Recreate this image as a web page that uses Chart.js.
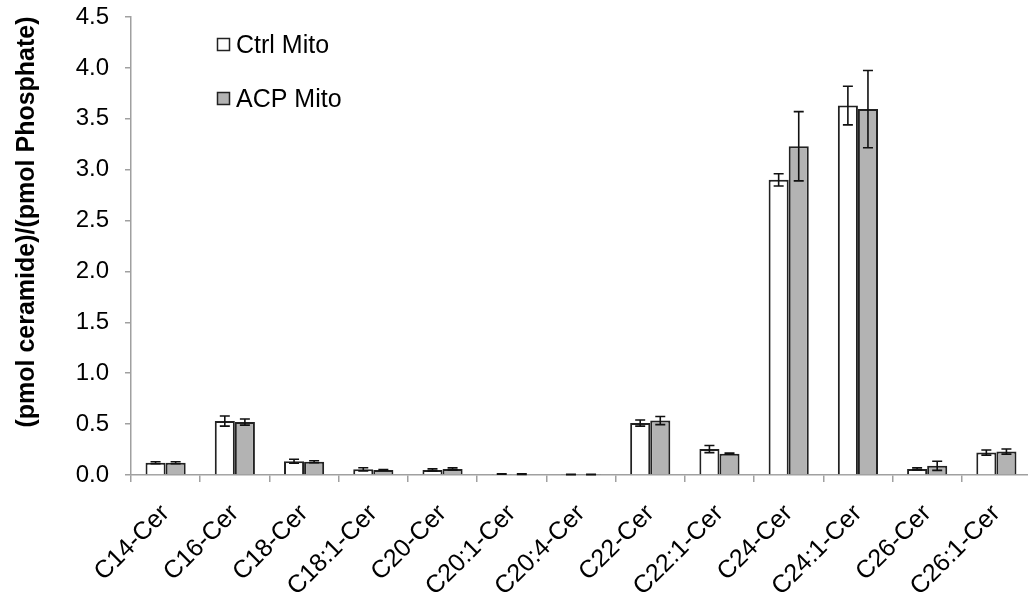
<!DOCTYPE html>
<html><head><meta charset="utf-8">
<script src="https://cdn.jsdelivr.net/npm/chart.js@4/dist/chart.umd.min.js"></script>
<style>html,body{margin:0;padding:0;background:#fff;overflow:hidden;width:1028px;height:595px}</style>
</head><body>
<canvas id="c" width="1040" height="595" style="display:block"></canvas>
<script>
const categories = ["C14-Cer","C16-Cer","C18-Cer","C18:1-Cer","C20-Cer","C20:1-Cer","C20:4-Cer","C22-Cer","C22:1-Cer","C24-Cer","C24:1-Cer","C26-Cer","C26:1-Cer"];
const ctrlMito = [0.12, 0.53, 0.135, 0.056, 0.05, 0.01, 0.005, 0.51, 0.255, 2.90, 3.63, 0.06, 0.22];
const ctrlErr  = [0.01, 0.05, 0.02, 0.015, 0.01, 0.003, 0.002, 0.03, 0.035, 0.06, 0.19, 0.01, 0.025];
const acpMito  = [0.12, 0.52, 0.13, 0.05, 0.06, 0.008, 0.005, 0.535, 0.21, 3.23, 3.595, 0.09, 0.23];
const acpErr   = [0.01, 0.03, 0.01, 0.004, 0.01, 0.003, 0.002, 0.04, 0.005, 0.34, 0.38, 0.045, 0.025];
const seriesLabels = ["Ctrl Mito", "ACP Mito"];
const yTickValues = [0, 0.5, 1.0, 1.5, 2.0, 2.5, 3.0, 3.5, 4.0, 4.5];
const yTitle = "(pmol ceramide)/(pmol Phosphate)";

Chart.defaults.font.family = "'Liberation Sans', Arial, sans-serif";
Chart.defaults.color = "#000";

const errorBars = {
  id: 'errorBars',
  afterDatasetsDraw(chart) {
    const ctx = chart.ctx, y = chart.scales.y;
    ctx.save();
    ctx.strokeStyle = '#111';
    ctx.lineWidth = 1.6;
    chart.data.datasets.forEach((ds, di) => {
      const meta = chart.getDatasetMeta(di);
      meta.data.forEach((bar, i) => {
        const v = ds.data[i], e = ds.errors[i];
        const yt = y.getPixelForValue(v + e), yb = y.getPixelForValue(v - e);
        const x = bar.x, cap = 5;
        ctx.beginPath();
        ctx.moveTo(x, yt); ctx.lineTo(x, yb);
        ctx.moveTo(x - cap, yt); ctx.lineTo(x + cap, yt);
        ctx.moveTo(x - cap, yb); ctx.lineTo(x + cap, yb);
        ctx.stroke();
      });
    });
    ctx.restore();
  }
};

const innerLegend = {
  id: 'innerLegend',
  afterDraw(chart, args, opts) {
    const ctx = chart.ctx;
    ctx.save();
    ctx.font = "25px 'Liberation Sans', Arial, sans-serif";
    ctx.textBaseline = 'middle';
    chart.data.datasets.forEach((ds, i) => {
      const bx = opts.x, by = opts.y + i * opts.gap;
      ctx.fillStyle = ds.backgroundColor;
      ctx.fillRect(bx, by, opts.box, opts.box);
      ctx.strokeStyle = '#222';
      ctx.lineWidth = 1.5;
      ctx.strokeRect(bx + 0.5, by + 0.5, opts.box - 1, opts.box - 1);
      ctx.fillStyle = '#000';
      ctx.fillText(ds.label, bx + opts.box + 6, by + opts.box / 2 + 2);
    });
    ctx.restore();
  }
};

const yAxisTitle = {
  id: 'yAxisTitle',
  afterDraw(chart, args, opts) {
    const ctx = chart.ctx;
    ctx.save();
    ctx.translate(opts.x, opts.y);
    ctx.rotate(-Math.PI / 2);
    ctx.font = "bold 25px 'Liberation Sans', Arial, sans-serif";
    ctx.textAlign = 'center';
    ctx.textBaseline = 'middle';
    ctx.fillStyle = '#000';
    ctx.fillText(opts.text, 0, 0);
    ctx.restore();
  }
};

new Chart(document.getElementById('c'), {
  type: 'bar',
  data: {
    labels: categories,
    datasets: [
      { label: seriesLabels[0], data: ctrlMito, errors: ctrlErr, backgroundColor: '#ffffff', borderColor: '#222', borderWidth: 2, borderSkipped: 'bottom' },
      { label: seriesLabels[1], data: acpMito, errors: acpErr, backgroundColor: '#b3b3b3', borderColor: '#222', borderWidth: 2, borderSkipped: 'bottom' }
    ]
  },
  options: {
    responsive: false,
    animation: false,
    events: [],
    layout: { padding: { left: 0, top: 17, right: 9, bottom: 0 } },
    datasets: { bar: { barPercentage: 1.0, categoryPercentage: 0.58 } },
    plugins: {
      legend: { display: false },
      tooltip: { enabled: false },
      innerLegend: { x: 217, y: 38, gap: 54, box: 13 },
      yAxisTitle: { x: 27, y: 222, text: yTitle }
    },
    scales: {
      x: {
        afterFit(s) { s.height = 120; },
        grid: { display: true, drawOnChartArea: false, offset: true, tickLength: 7, color: '#a0a0a0', lineWidth: 1.5 },
        border: { color: '#a0a0a0', width: 1.5 },
        ticks: { minRotation: 45, maxRotation: 45, autoSkip: false, padding: 17, font: { size: 25 }, color: '#000' }
      },
      y: {
        min: 0, max: 4.5,
        afterFit(s) { s.width = 131; s.paddingTop = 0; s.paddingBottom = 0; },
        afterBuildTicks(s) { s.ticks = yTickValues.map(v => ({ value: v })); },
        grid: { display: true, drawOnChartArea: false, tickLength: 6, color: '#a0a0a0', lineWidth: 1.5 },
        border: { color: '#a0a0a0', width: 1.5 },
        ticks: { padding: 16, font: { size: 24 }, color: '#000', callback: v => Number(v).toFixed(1) },
        title: { display: false }
      }
    }
  },
  plugins: [errorBars, innerLegend, yAxisTitle]
});
</script>
</body></html>
